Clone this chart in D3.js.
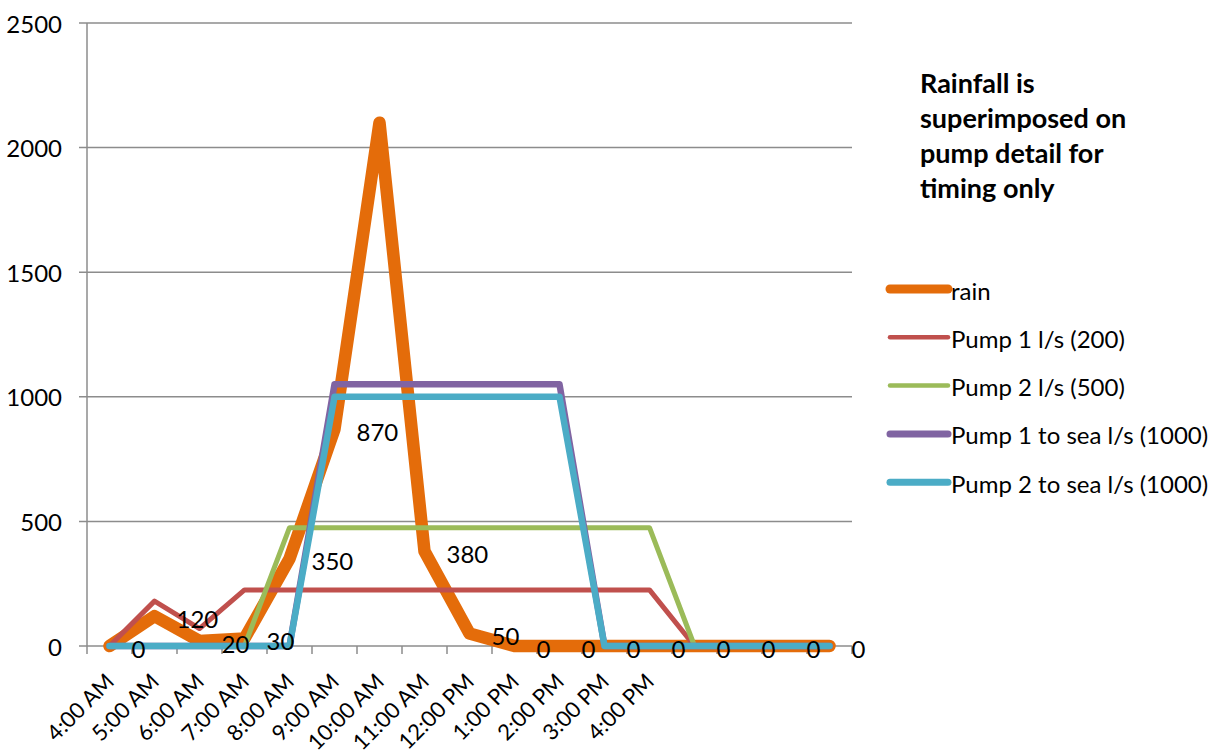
<!DOCTYPE html>
<html>
<head>
<meta charset="utf-8">
<script src="https://cdn.jsdelivr.net/npm/d3@7"></script>
<style>
  body { margin: 0; background: #fff; }
  text { font-family: Lato, "Open Sans", sans-serif; fill: #000; }
</style>
</head>
<body>
<div id="chart"></div>
<script>
// Dades
const hours = ["4:00 AM", "5:00 AM", "6:00 AM", "7:00 AM", "8:00 AM", "9:00 AM", "10:00 AM",
  "11:00 AM", "12:00 PM", "1:00 PM", "2:00 PM", "3:00 PM", "4:00 PM", "", "", "", ""];
const rain = [0, 120, 20, 30, 350, 870, 2100, 380, 50, 0, 0, 0, 0, 0, 0, 0, 0];
const pump1 = [0, 180, 70, 225, 225, 225, 225, 225, 225, 225, 225, 225, 225, 0, 0, 0, 0];
const pump2 = [0, 0, 0, 0, 475, 475, 475, 475, 475, 475, 475, 475, 475, 0, 0, 0, 0];
const pump1Sea = [0, 0, 0, 0, 0, 1050, 1050, 1050, 1050, 1050, 1050, 0, 0, 0, 0, 0, 0];
const pump2Sea = [0, 0, 0, 0, 0, 1000, 1000, 1000, 1000, 1000, 1000, 0, 0, 0, 0, 0, 0];
const yTicks = [0, 500, 1000, 1500, 2000, 2500];
const titleLines = ["Rainfall is", "superimposed on", "pump detail for", "timing only"];

const series = [
  { name: "rain", values: rain, color: "#E46C0A", width: 12.5, legendWidth: 9 },
  { name: "Pump 1 l/s (200)", values: pump1, color: "#C0504D", width: 5, legendWidth: 4.5 },
  { name: "Pump 2 l/s (500)", values: pump2, color: "#9BBB59", width: 5, legendWidth: 4.5 },
  { name: "Pump 1 to sea l/s (1000)", values: pump1Sea, color: "#8064A2", width: 6.5, legendWidth: 7 },
  { name: "Pump 2 to sea l/s (1000)", values: pump2Sea, color: "#4BACC6", width: 6.5, legendWidth: 7 }
];

const W = 1216, H = 752;
const plot = { left: 87, right: 852, top: 23, bottom: 646 };
const fontSize = 24;

const svg = d3.select("#chart").append("svg")
  .attr("width", W).attr("height", H);

const x = d3.scaleBand()
  .domain(d3.range(hours.length))
  .range([plot.left, plot.right])
  .padding(0);
const cx = i => x(i) + x.bandwidth() / 2;

const y = d3.scaleLinear()
  .domain([0, 2500])
  .range([plot.bottom, plot.top]);

// Graella horitzontal
svg.append("g").selectAll("line")
  .data(yTicks)
  .enter().append("line")
    .attr("x1", plot.left - 8).attr("x2", plot.right)
    .attr("y1", d => y(d)).attr("y2", d => y(d))
    .attr("stroke", "#8c8c8c").attr("stroke-width", 1.5);

// Eix Y
svg.append("line")
  .attr("x1", plot.left).attr("x2", plot.left)
  .attr("y1", plot.top).attr("y2", plot.bottom)
  .attr("stroke", "#8c8c8c").attr("stroke-width", 1.5);

// Marques de l'eix X
svg.append("g").selectAll("line")
  .data(d3.range(hours.length + 1))
  .enter().append("line")
    .attr("x1", d => plot.left + d * x.bandwidth())
    .attr("x2", d => plot.left + d * x.bandwidth())
    .attr("y1", plot.bottom).attr("y2", plot.bottom + 8)
    .attr("stroke", "#8c8c8c").attr("stroke-width", 1.5);

// Etiquetes Y
svg.append("g").selectAll("text")
  .data(yTicks)
  .enter().append("text")
    .attr("x", 62)
    .attr("y", d => y(d))
    .attr("text-anchor", "end")
    .attr("dominant-baseline", "central")
    .style("font-size", fontSize + "px")
    .text(d => d);

// Etiquetes X (girades)
svg.append("g").selectAll("text")
  .data(hours.map((h, i) => ({ h, i })).filter(d => d.h !== ""))
  .enter().append("text")
    .attr("text-anchor", "end")
    .attr("transform", d => `translate(${cx(d.i) + 6}, ${plot.bottom + 37}) rotate(-45)`)
    .style("font-size", "22px")
    .text(d => d.h);

// Línies
const line = d3.line()
  .x((d, i) => cx(i))
  .y(d => y(d));

svg.append("g").selectAll("path")
  .data(series)
  .enter().append("path")
    .attr("d", d => line(d.values))
    .attr("fill", "none")
    .attr("stroke", d => d.color)
    .attr("stroke-width", d => d.width)
    .attr("stroke-linejoin", "round")
    .attr("stroke-linecap", "round");

// Etiquetes de dades de la pluja (sense el pic)
svg.append("g").selectAll("text")
  .data(rain.map((v, i) => ({ v, i })).filter(d => d.i !== 6))
  .enter().append("text")
    .attr("x", d => cx(d.i) + 22)
    .attr("y", d => y(d.v) + 2)
    .attr("dominant-baseline", "central")
    .style("font-size", fontSize + "px")
    .text(d => d.v);

// Títol de la llegenda
svg.append("g").selectAll("text")
  .data(titleLines)
  .enter().append("text")
    .attr("x", 920)
    .attr("y", (d, i) => 93 + i * 35)
    .style("font-size", "27px")
    .style("font-weight", "bold")
    .text(d => d);

// Llegenda
const legend = svg.append("g").selectAll("g")
  .data(series)
  .enter().append("g")
    .attr("transform", (d, i) => `translate(890, ${289 + i * 48.3})`);

legend.append("line")
  .attr("x1", 0).attr("x2", 58)
  .attr("stroke", d => d.color)
  .attr("stroke-width", d => d.legendWidth)
  .attr("stroke-linecap", "round");

legend.append("text")
  .attr("x", 61)
  .attr("y", 1)
  .attr("dominant-baseline", "central")
  .style("font-size", fontSize + "px")
  .text(d => d.name);
</script>
</body>
</html>
